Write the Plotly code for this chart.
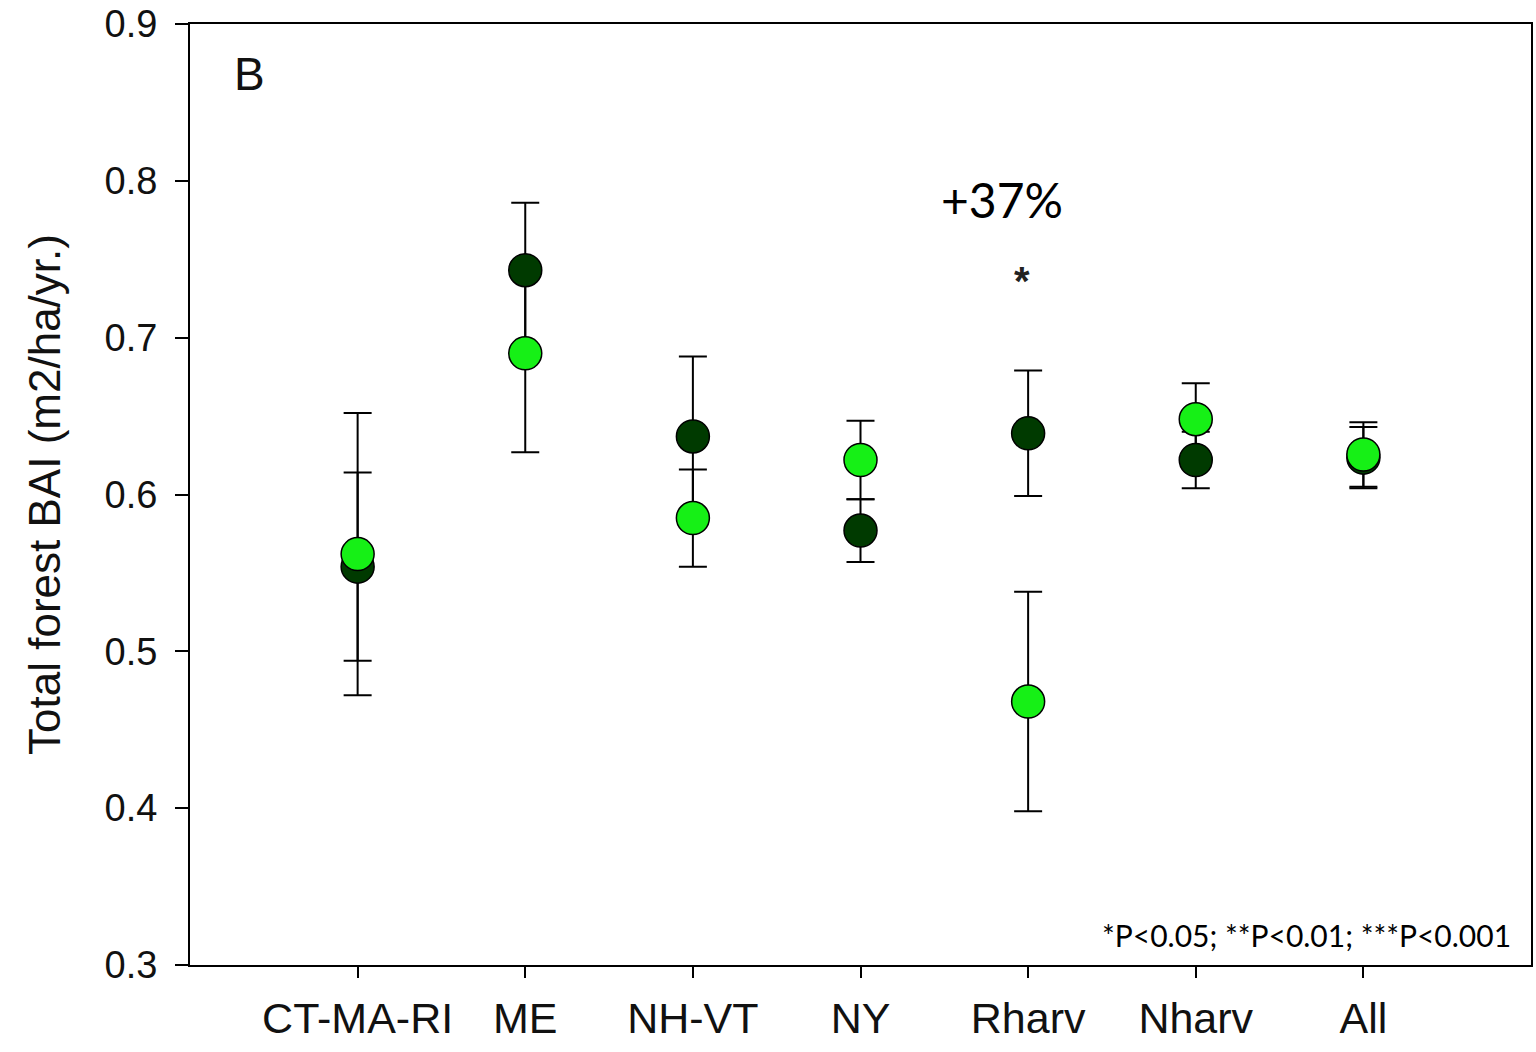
import plotly.graph_objects as go

categories = ["CT-MA-RI", "ME", "NH-VT", "NY", "Rharv", "Nharv", "All"]
dark_values = [0.554, 0.743, 0.637, 0.577, 0.639, 0.622, 0.6235]
dark_err_up = [0.060, 0.043, 0.051, 0.020, 0.040, 0.018, 0.0195]
dark_err_down = [0.060, 0.053, 0.051, 0.020, 0.040, 0.018, 0.0195]
light_values = [0.562, 0.690, 0.585, 0.622, 0.468, 0.648, 0.6255]
light_err_up = [0.090, 0.053, 0.031, 0.025, 0.070, 0.023, 0.0205]
light_err_down = [0.090, 0.063, 0.031, 0.025, 0.070, 0.023, 0.0205]

DARK = "#003a00"
LIGHT = "#16f016"
FONT = "Liberation Sans, Arial, sans-serif"
CAL = "Lato, Carlito, Calibri, sans-serif"

fig = go.Figure()

# error bars drawn underneath all markers
for vals, up, down in [(dark_values, dark_err_up, dark_err_down),
                       (light_values, light_err_up, light_err_down)]:
    fig.add_trace(go.Scatter(
        x=categories, y=vals, mode="markers",
        marker=dict(size=1, color="rgba(0,0,0,0)"),
        error_y=dict(type="data", array=up, arrayminus=down, symmetric=False,
                     visible=True, color="black", thickness=2, width=14),
        showlegend=False, hoverinfo="skip"))

fig.add_trace(go.Scatter(
    x=categories, y=dark_values, mode="markers", name="dark",
    marker=dict(size=33, color=DARK, line=dict(color="black", width=1.5)),
    showlegend=False))
fig.add_trace(go.Scatter(
    x=categories, y=light_values, mode="markers", name="light",
    marker=dict(size=33, color=LIGHT, line=dict(color="black", width=1.5)),
    showlegend=False))

fig.update_layout(
    width=1536, height=1052,
    margin=dict(l=190, r=3, t=22, b=87),
    paper_bgcolor="white", plot_bgcolor="white",
    showlegend=False,
    xaxis=dict(
        type="category", range=[-1, 7],
        showline=True, linecolor="black", linewidth=2, mirror=True,
        ticks="outside", ticklen=11, tickwidth=2, tickcolor="black",
        showgrid=False, zeroline=False,
        tickfont=dict(family=FONT, size=43, color="#111111"),
        ticklabelstandoff=3,
    ),
    yaxis=dict(
        range=[0.3, 0.9], dtick=0.1, tick0=0.3, tickformat=".1f",
        showline=True, linecolor="black", linewidth=2, mirror=True,
        ticks="outside", ticklen=13, tickwidth=2, tickcolor="black",
        showgrid=False, zeroline=False,
        tickfont=dict(family=FONT, size=38, color="#111111"),
        ticklabelstandoff=10,
        title=dict(text="Total forest BAI (m2/ha/yr.)",
                   font=dict(family=FONT, size=44, color="#111111"),
                   standoff=30),
    ),
)

fig.add_annotation(xref="paper", yref="paper", x=0.031, y=0.947,
                   xanchor="left", yanchor="middle", showarrow=False,
                   text="B", font=dict(family=FONT, size=46, color="#111111"))
fig.add_annotation(x="Rharv", y=0.788, xshift=-26, showarrow=False,
                   xanchor="center", yanchor="middle",
                   text="+37%", font=dict(family=CAL, size=48, color="black"))
fig.add_annotation(x="Rharv", y=0.736, xshift=-6, showarrow=False,
                   xanchor="center", yanchor="middle",
                   text="<b>*</b>", font=dict(family=FONT, size=40, color="#222222"))
fig.add_annotation(xref="paper", yref="paper", x=0.9866, y=0.032,
                   xanchor="right", yanchor="middle", showarrow=False,
                   text="*P&lt;0.05; **P&lt;0.01; ***P&lt;0.001",
                   font=dict(family=CAL, size=30, color="black"))

fig.write_html("out.html")
